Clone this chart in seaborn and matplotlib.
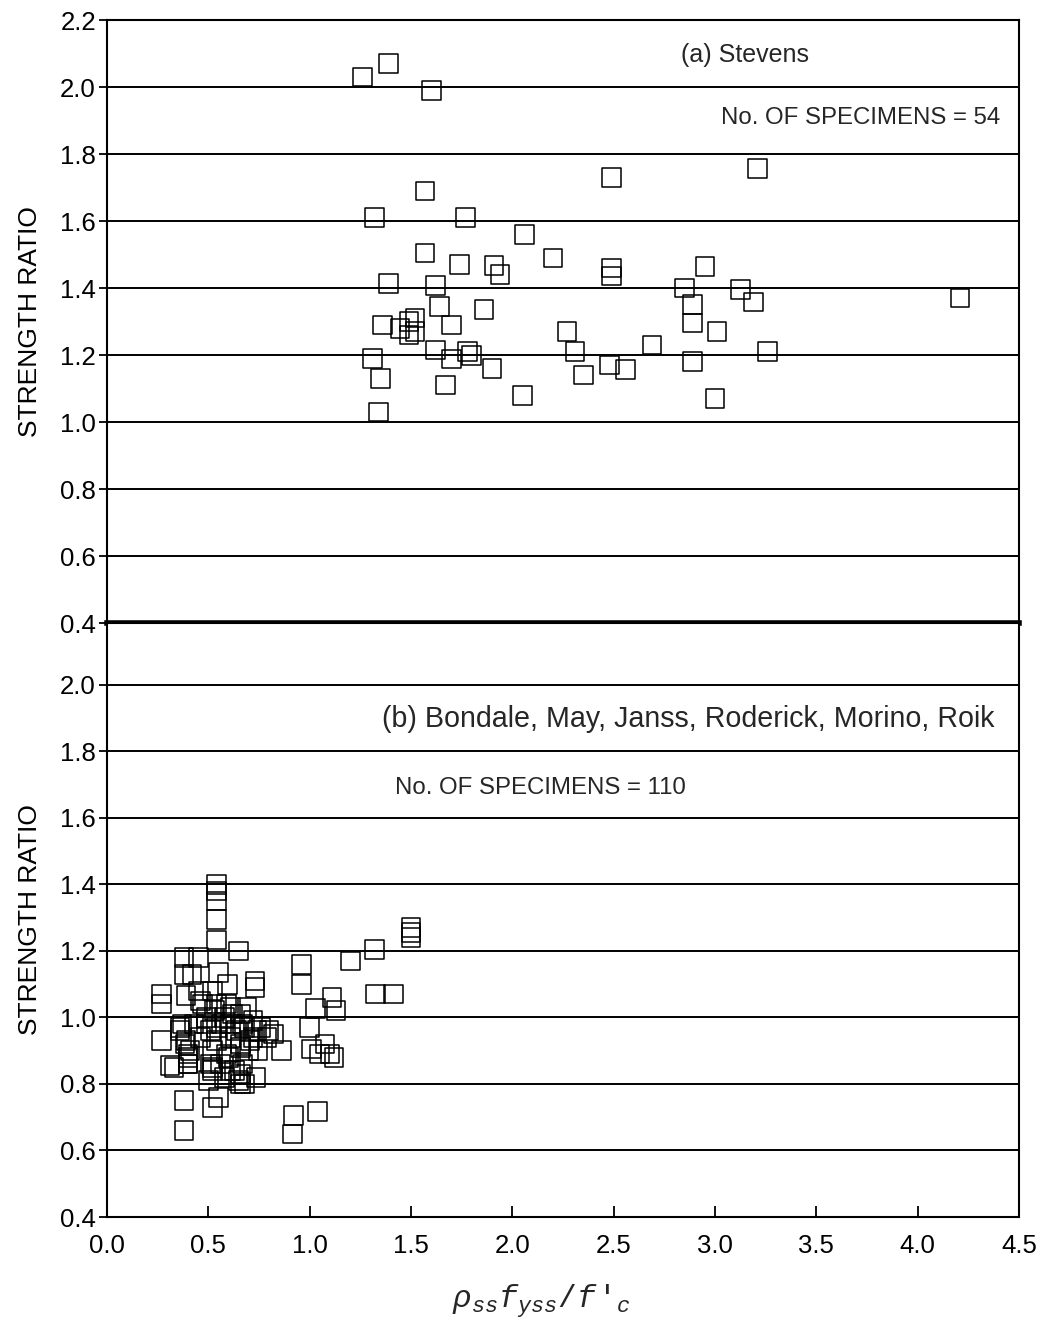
import numpy as np
import pandas as pd
import matplotlib
matplotlib.use("Agg")
import matplotlib.pyplot as plt
import seaborn as sns

# (a) Stevens specimens: confinement index vs. strength ratio
stevens_x = [1.26, 1.39, 1.60, 1.57, 2.49, 1.32, 1.77, 2.06, 1.57, 1.74,
             1.91, 1.94, 2.20, 2.49, 2.49, 1.39, 1.62, 1.64, 1.86, 1.70,
             1.36, 1.445, 1.49, 1.52, 1.49, 1.52, 1.62, 1.70, 1.78, 1.80,
             1.31, 1.35, 1.67, 1.90, 2.05, 1.34, 2.27, 2.31, 2.35, 2.48,
             2.56, 2.69, 3.21, 2.95, 2.85, 2.89, 2.89, 3.125, 3.19, 3.01,
             3.26, 2.89, 3.00, 4.21]
stevens_y = [2.03, 2.07, 1.99, 1.69, 1.73, 1.61, 1.61, 1.56, 1.505, 1.47,
             1.467, 1.44, 1.49, 1.46, 1.436, 1.414, 1.407, 1.344, 1.336, 1.29,
             1.29, 1.28, 1.30, 1.31, 1.26, 1.27, 1.215, 1.188, 1.21, 1.198,
             1.19, 1.13, 1.11, 1.16, 1.08, 1.03, 1.27, 1.21, 1.14, 1.17,
             1.157, 1.23, 1.756, 1.464, 1.40, 1.35, 1.296, 1.395, 1.358, 1.27,
             1.21, 1.18, 1.07, 1.37]

# (b) Bondale, May, Janss, Roderick, Morino, Roik specimens
others_x = [0.54, 0.54, 0.54, 0.54, 0.54, 0.65, 0.38, 0.45, 0.38, 0.42,
            0.55, 0.595, 0.27, 0.27, 0.39, 0.45, 0.73, 0.73, 0.96, 0.96,
            0.27, 0.31, 0.86, 0.80, 0.745, 0.735, 0.50, 0.55, 0.52, 0.38,
            0.38, 0.65, 0.68, 1.50, 1.50, 1.50, 1.32, 1.20, 1.11, 1.03,
            1.13, 1.325, 1.415, 1.00, 1.01, 1.05, 1.075, 1.10, 1.12, 0.92,
            0.915, 1.04,
            0.46, 0.52, 0.54, 0.61, 0.66, 0.36, 0.39, 0.49, 0.54, 0.61,
            0.68, 0.74, 0.40, 0.40, 0.51, 0.59, 0.66, 0.705, 0.33, 0.52,
            0.61, 0.66, 0.37, 0.36, 0.41, 0.40, 0.40, 0.49, 0.51, 0.53,
            0.565, 0.58, 0.62, 0.64, 0.67, 0.72, 0.76, 0.82, 0.79, 0.52,
            0.56, 0.60, 0.66, 0.70, 0.63, 0.66, 0.52, 0.54, 0.46, 0.43,
            0.47, 0.59, 0.69, 0.61, 0.72, 0.385, 0.67, 0.58]
others_y = [1.40, 1.38, 1.35, 1.295, 1.233, 1.20, 1.18, 1.18, 1.13, 1.13,
            1.135, 1.10, 1.07, 1.04, 1.066, 1.08, 1.11, 1.09, 1.16, 1.10,
            0.93, 0.855, 0.90, 0.96, 0.90, 0.82, 0.81, 0.76, 0.73, 0.75,
            0.66, 0.81, 0.80, 1.27, 1.255, 1.24, 1.205, 1.17, 1.06, 1.026,
            1.02, 1.07, 1.07, 0.97, 0.905, 0.89, 0.92, 0.89, 0.88, 0.705,
            0.65, 0.717,
            1.05, 1.08, 1.04, 1.03, 1.01, 0.97, 0.93, 0.98, 0.97, 0.98,
            0.97, 0.96, 0.89, 0.86, 0.86, 0.89, 0.91, 0.93, 0.85, 0.84,
            0.84, 0.83, 0.98, 0.96, 0.90, 0.88, 0.86, 1.00, 0.96, 1.02,
            0.98, 1.00, 1.01, 0.96, 0.98, 0.99, 0.97, 0.95, 0.94, 0.90,
            0.86, 0.88, 0.92, 0.90, 0.84, 0.80, 0.85, 0.93, 0.94, 0.98,
            1.04, 1.04, 1.03, 0.94, 0.94, 0.92, 0.86, 0.82]

x_ticks = [0.0, 0.5, 1.0, 1.5, 2.0, 2.5, 3.0, 3.5, 4.0, 4.5]
y_ticks_top = [0.4, 0.6, 0.8, 1.0, 1.2, 1.4, 1.6, 1.8, 2.0, 2.2]
y_ticks_bottom = [0.4, 0.6, 0.8, 1.0, 1.2, 1.4, 1.6, 1.8, 2.0]

df_a = pd.DataFrame({"x": stevens_x, "y": stevens_y})
df_b = pd.DataFrame({"x": others_x, "y": others_y})

sns.set_theme(style="white")
plt.rcParams["font.family"] = ["Liberation Sans", "DejaVu Sans"]
plt.rcParams["mathtext.fontset"] = "custom"
plt.rcParams["mathtext.it"] = "Liberation Mono:italic"
plt.rcParams["mathtext.rm"] = "Liberation Mono"

fig = plt.figure(figsize=(10.44, 13.25), dpi=100)
left, width = 0.1025, 0.8735
ax_a = fig.add_axes([left, 0.5298, width, 0.4551])
ax_b = fig.add_axes([left, 0.0815, width, 0.4483])

marker_kw = dict(marker="s", s=180, facecolor="none", edgecolor="black",
                 linewidth=1.1, legend=False, zorder=3)
sns.scatterplot(data=df_a, x="x", y="y", ax=ax_a, **marker_kw)
sns.scatterplot(data=df_b, x="x", y="y", ax=ax_b, **marker_kw)

for ax, yt, ylim in [(ax_a, y_ticks_top, (0.4, 2.2)),
                     (ax_b, y_ticks_bottom, (0.4, 2.186))]:
    ax.set_xlim(0.0, 4.5)
    ax.set_ylim(*ylim)
    ax.set_xticks(x_ticks)
    ax.set_yticks(yt)
    ax.set_yticklabels([f"{v:.1f}" for v in yt])
    for yv in yt:
        ax.axhline(yv, color="black", lw=1.4, zorder=1)
    for sp in ax.spines.values():
        sp.set_color("black")
        sp.set_linewidth(1.5)
        sp.set_visible(True)
    ax.tick_params(axis="y", direction="out", length=6, width=1.3, pad=2,
                   labelsize=18.5, colors="black", left=True)
    ax.set_ylabel("STRENGTH RATIO", fontsize=19, color="black")
    ax.yaxis.set_label_coords(-0.071, 0.5)
    ax.set_xlabel("")

ax_a.spines["bottom"].set_linewidth(4)
ax_a.tick_params(axis="x", direction="out", length=5, width=1.3,
                 bottom=True, labelbottom=False)
ax_b.tick_params(axis="x", direction="in", length=8, width=1.3,
                 bottom=True, labelsize=18.5, colors="black", pad=12)
ax_b.set_xticklabels([f"{v:.1f}" for v in x_ticks])

ax_a.text(0.629, 0.942, "(a) Stevens", transform=ax_a.transAxes,
          fontsize=18, ha="left", va="center")
ax_a.text(0.979, 0.838, "No. OF SPECIMENS = 54", transform=ax_a.transAxes,
          fontsize=17.3, ha="right", va="center")
ax_b.text(0.302, 0.838, "(b) Bondale, May, Janss, Roderick, Morino, Roik",
          transform=ax_b.transAxes, fontsize=20.6, ha="left", va="center")
ax_b.text(0.316, 0.722, "No. OF SPECIMENS = 110", transform=ax_b.transAxes,
          fontsize=17.3, ha="left", va="center")

fig.text(0.519, 0.018, r"$\rho_{ss}f_{yss}/f\,'_{c}$", fontsize=22.5,
         ha="center", va="center")

fig.savefig("out.png", dpi=100, facecolor="white")
